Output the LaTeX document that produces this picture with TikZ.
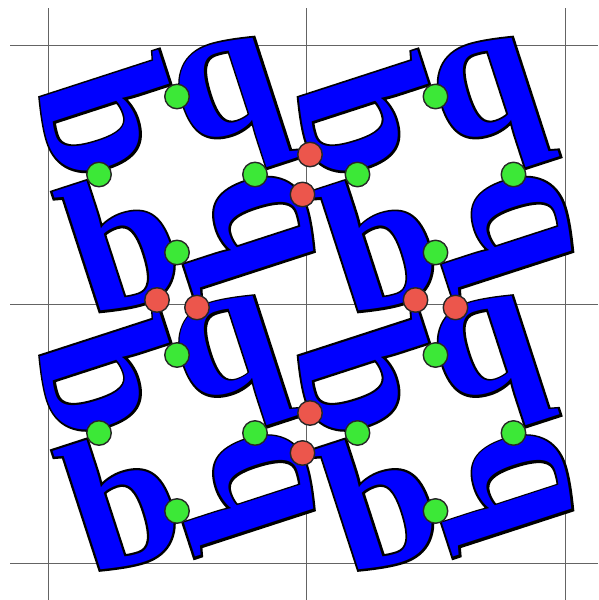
\documentclass[tikz,border=0pt]{standalone}
\usepackage{fontspec}
\setmainfont{Liberation Serif}
\newfontfamily\outlinefont{Liberation Serif}[BoldFeatures={FakeBold=2.4}]
\definecolor{dotgreen}{RGB}{60,232,55}
\definecolor{dotred}{RGB}{236,86,76}
\definecolor{gridgray}{RGB}{100,100,100}
\begin{document}
\begin{tikzpicture}[x=1pt,y=-1pt,
  gridline/.style={draw=gridgray,line width=1pt},
  letter/.style={inner sep=0pt,outer sep=0pt,text=blue,font=\bfseries\fontsize{190}{190}\selectfont},
  letteredge/.style={inner sep=0pt,outer sep=0pt,text=black,font=\outlinefont\bfseries\fontsize{190}{190}\selectfont},
  gdot/.style={circle,fill=dotgreen,draw=black!85,line width=1.4pt,minimum size=24.5pt,inner sep=0pt},
  rdot/.style={circle,fill=dotred,draw=black!85,line width=1.4pt,minimum size=24.5pt,inner sep=0pt}]
\useasboundingbox (0,0) rectangle (598,600);
\foreach \x in {48,306.5,565} \draw[gridline] (\x,8) -- (\x,600);
\foreach \y in {45,304,563} \draw[gridline] (10,\y) -- (598,\y);
\foreach \cx/\cy [count=\i] in {177/174.5, 435.5/174.5, 177/433, 435.5/433} {
  \foreach \k/\dx/\dy in {0/-55.8/66, 1/66/55.8, 2/55.8/-66, 3/-66/-55.8} {
    \node[letteredge, rotate=18+90*\k] (E\i\k) at ({\cx+\dx},{\cy+\dy}) {b};
    \node[letter, rotate=18+90*\k] (L\i\k) at ({\cx+\dx},{\cy+\dy}) {b};
  }
}
\foreach \cx/\cy [count=\i] in {177/174.5, 435.5/174.5, 177/433, 435.5/433} {
  \node[gdot] (Gt\i) at (\cx,{\cy-78}) {};
  \node[gdot] (Gb\i) at (\cx,{\cy+78}) {};
  \node[gdot] (Gl\i) at ({\cx-78},\cy) {};
  \node[gdot] (Gr\i) at ({\cx+78},\cy) {};
}
\foreach \x/\y [count=\j] in {157/300, 302.5/194.5, 310/154.5, 415.5/300, 197/307.5, 302.5/453, 310/413, 455.5/307.5} {
  \node[rdot] (R\j) at (\x,\y) {};
}
\end{tikzpicture}
\end{document}
